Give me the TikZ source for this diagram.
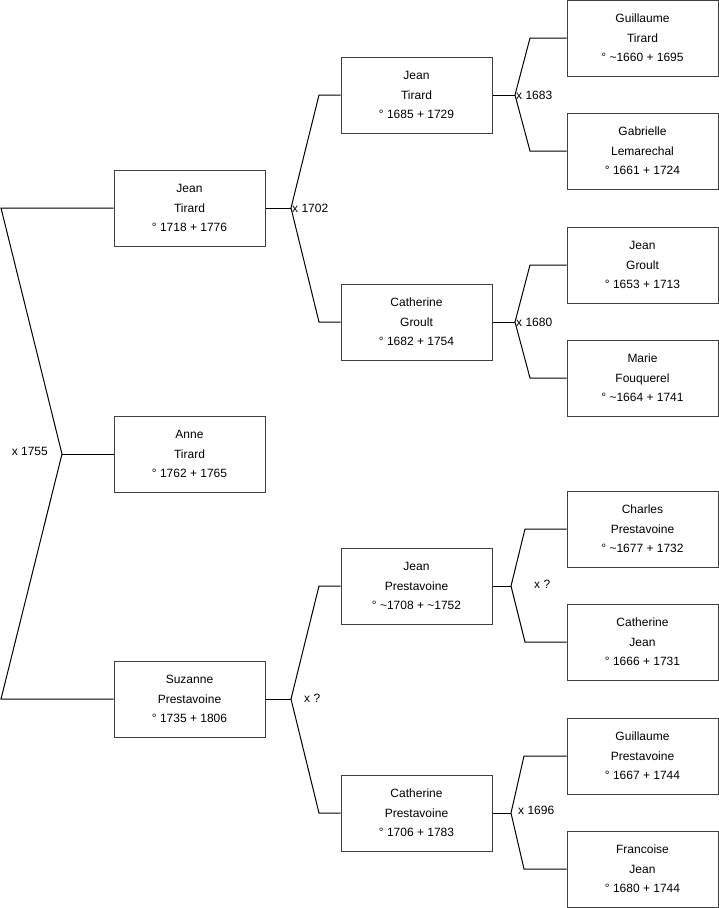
\documentclass[tikz,border=0pt]{standalone}
\usepackage{fontspec}
\setmainfont{Liberation Sans}
\usetikzlibrary{positioning}

\tikzset{
  person/.style={draw=black!75, line width=1pt, minimum width=151pt, minimum height=76pt,
    inner sep=0pt, align=center, font=\fontsize{12}{19.5}\selectfont},
  link/.style={draw=black, line width=1pt},
  wed/.style={font=\fontsize{12}{14}\selectfont, inner sep=1pt}
}

\begin{document}
\begin{tikzpicture}[x=1pt, y=-1pt]
        \useasboundingbox (0,0) rectangle (719,908);

        % generation 1
        \node[person] (jean1) at (189.5,208) {Jean\\Tirard\\° 1718 + 1776};
        \node[person] (anne) at (189.5,454) {Anne\\Tirard\\° 1762 + 1765};
        \node[person] (suzanne) at (189.5,699) {Suzanne\\Prestavoine\\° 1735 + 1806};

        % generation 2
        \node[person] (jean2) at (416.5,95) {Jean\\Tirard\\° 1685 + 1729};
        \node[person] (cathg) at (416.5,322) {Catherine\\Groult\\° 1682 + 1754};
        \node[person] (jeanp) at (416.5,586) {Jean\\Prestavoine\\° \textasciitilde1708 + \textasciitilde1752};
        \node[person] (cathp) at (416.5,813) {Catherine\\Prestavoine\\° 1706 + 1783};

        % generation 3
        \node[person] (guilt) at (642.5,38) {Guillaume\\Tirard\\° \textasciitilde1660 + 1695};
        \node[person] (gabl) at (642.5,151) {Gabrielle\\Lemarechal\\° 1661 + 1724};
        \node[person] (jeang) at (642.5,265) {Jean\\Groult\\° 1653 + 1713};
        \node[person] (marief) at (642.5,378) {Marie\\Fouquerel\\° \textasciitilde1664 + 1741};
        \node[person] (charp) at (642.5,529) {Charles\\Prestavoine\\° \textasciitilde1677 + 1732};
        \node[person] (cathj) at (642.5,642) {Catherine\\Jean\\° 1666 + 1731};
        \node[person] (guilp) at (642.5,756) {Guillaume\\Prestavoine\\° 1667 + 1744};
        \node[person] (franj) at (642.5,869) {Francoise\\Jean\\° 1680 + 1744};

        % junctions
        \coordinate (a1) at (1,208);
        \coordinate (m1) at (62,454);
        \coordinate (a2) at (1,699);
        \coordinate (m2) at (291,208);
        \coordinate (b1) at (319,95);
        \coordinate (b2) at (319,322);
        \coordinate (m3) at (291,699);
        \coordinate (b3) at (319,586);
        \coordinate (b4) at (319,813);
        \coordinate (m4) at (515,95);
        \coordinate (c1) at (530,38);
        \coordinate (c2) at (530,151);
        \coordinate (m5) at (515,322);
        \coordinate (c3) at (530,265);
        \coordinate (c4) at (530,378);
        \coordinate (m6) at (511,586);
        \coordinate (c5) at (525,529);
        \coordinate (c6) at (525,642);
        \coordinate (m7) at (511,813);
        \coordinate (c7) at (524,756);
        \coordinate (c8) at (524,869);

        % couples
        \draw[link] (jean1.west) -- (a1) -- (m1) -- (a2) -- (suzanne.west);
        \draw[link] (m1) -- (anne.west);
        \node[wed, left] at (49,451) {x 1755};

        \draw[link] (jean1.east) -- (m2);
        \draw[link] (jean2.west) -- (b1) -- (m2) -- (b2) -- (cathg.west);
        \node[wed, right] at (m2) {x 1702};

        \draw[link] (suzanne.east) -- (m3);
        \draw[link] (jeanp.west) -- (b3) -- (m3) -- (b4) -- (cathp.west);
        \node[wed, right] at (303,698) {x ?};

        \draw[link] (jean2.east) -- (m4);
        \draw[link] (guilt.west) -- (c1) -- (m4) -- (c2) -- (gabl.west);
        \node[wed, right] at (m4) {x 1683};

        \draw[link] (cathg.east) -- (m5);
        \draw[link] (jeang.west) -- (c3) -- (m5) -- (c4) -- (marief.west);
        \node[wed, right] at (m5) {x 1680};

        \draw[link] (jeanp.east) -- (m6);
        \draw[link] (charp.west) -- (c5) -- (m6) -- (c6) -- (cathj.west);
        \node[wed, right] at (533,584) {x ?};

        \draw[link] (cathp.east) -- (m7);
        \draw[link] (guilp.west) -- (c7) -- (m7) -- (c8) -- (franj.west);
        \node[wed, right] at (517,810) {x 1696};

\end{tikzpicture}
\end{document}
